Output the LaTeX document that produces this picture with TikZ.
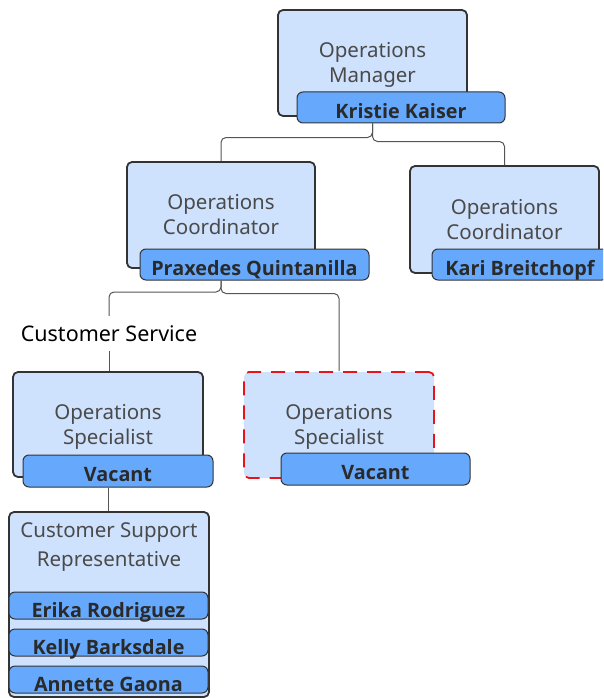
\documentclass[tikz,border=0pt]{standalone}
\usepackage{fontspec}
\setmainfont{Noto Sans}
\newfontfamily\namefont{Open Sans}
\definecolor{boxfill}{HTML}{CFE2FD}
\definecolor{barfill}{HTML}{66A9FC}
\definecolor{edgegray}{HTML}{333333}
\definecolor{linkgray}{HTML}{555555}
\definecolor{titlegray}{HTML}{4A4A4A}
\definecolor{namedark}{HTML}{2A2A2A}
\definecolor{vacantred}{HTML}{E8141C}

\begin{document}
\begin{tikzpicture}[x=1pt,y=-1pt,
  rolebox/.style={draw=edgegray, line width=1.8pt, fill=boxfill, rounded corners=5pt, inner sep=0pt},
  openrole/.style={rolebox, draw=vacantred, dash pattern=on 14pt off 10pt},
  namebar/.style={draw=edgegray, line width=1pt, fill=barfill, rounded corners=6pt, inner sep=0pt,
    font=\namefont\fontsize{19.8}{23}\selectfont\bfseries, text=namedark, text height=21pt, text depth=0pt},
  listbar/.style={namebar, minimum width=199pt, minimum height=27pt, text height=23pt},
  title/.style={font=\fontsize{20.5}{25}\selectfont, text=titlegray, align=center, inner sep=0pt},
  link/.style={draw=linkgray, line width=1pt, rounded corners=5pt},
]
\useasboundingbox (0,0) rectangle (603,698);
\clip (0,0) rectangle (603,698);

% Operations Manager
\node[rolebox, minimum width=189pt, minimum height=106pt] (mgr) at (372.5,63) {};
\node[title] at ([yshift=-2pt]mgr.center) {\strut Operations\\\strut Manager};
\node[namebar, minimum width=208pt, minimum height=31pt] (mgrname) at (401,107.5) {Kristie Kaiser};

% Operations Coordinator (left)
\node[rolebox, minimum width=188pt, minimum height=106pt] (coA) at (221,215) {};
\node[title] at ([yshift=-2pt]coA.center) {\strut Operations\\\strut Coordinator};
\node[namebar, minimum width=229pt, minimum height=31pt] (coAname) at (254.5,264.5) {Praxedes Quintanilla};

% Operations Coordinator (right)
\node[rolebox, minimum width=189pt, minimum height=107pt] (coB) at (504.5,219.5) {};
\node[title] at ([yshift=-2pt]coB.center) {\strut Operations\\\strut Coordinator};
\node[namebar, minimum width=176pt, minimum height=31pt] (coBname) at (520,264.5) {Kari Breitchopf};

% Operations Specialist (Customer Service)
\node[rolebox, minimum width=190pt, minimum height=105pt] (spA) at (108,424.5) {};
\node[title] at ([yshift=-2pt]spA.center) {\strut Operations\\\strut Specialist};
\node[namebar, minimum width=190pt, minimum height=32pt] (spAname) at (118,471) {Vacant};

% Operations Specialist (open position)
\node[openrole, minimum width=190pt, minimum height=106pt] (spB) at (339,425) {};
\node[title] at ([yshift=-2pt]spB.center) {\strut Operations\\\strut Specialist};
\node[namebar, minimum width=189pt, minimum height=32pt] (spBname) at (375.5,469) {Vacant};

% Customer Support Representative team
\node[rolebox, minimum width=200pt, minimum height=185pt] (csr) at (109,604.5) {};
\node[title, font=\fontsize{20.5}{29.5}\selectfont] at (109,546) {\strut Customer Support\\\strut Representative};
\node[listbar] (csrA) at (108.5,605.5) {Erika Rodriguez};
\node[listbar] (csrB) at (108.5,642.5) {Kelly Barksdale};
\node[listbar] (csrC) at (108.5,679.5) {Annette Gaona};

% group label on the link
\node[font=\fontsize{21.5}{25}\selectfont, text=black, inner xsep=2pt, inner ysep=10pt,
  text height=15pt, text depth=0pt] (cs) at (109,333.5) {Customer Service};

% reporting lines
\draw[link] (mgr.center |- mgrname.south) -- ++(0,14) -| (coA.north);
\draw[link] (mgr.center |- mgrname.south) -- ++(0,18) -| (coB.north);
\draw[link] (coA.center |- coAname.south) -- ++(0,11.5) -| (cs.north);
\draw[link] (cs.south) -- (cs.south |- spA.north);
\draw[link] (coA.center |- coAname.south) -- ++(0,13) -| (spB.north);
\draw[link] (spA.center |- spAname.south) -- (spA.center |- csr.north);
\end{tikzpicture}
\end{document}
